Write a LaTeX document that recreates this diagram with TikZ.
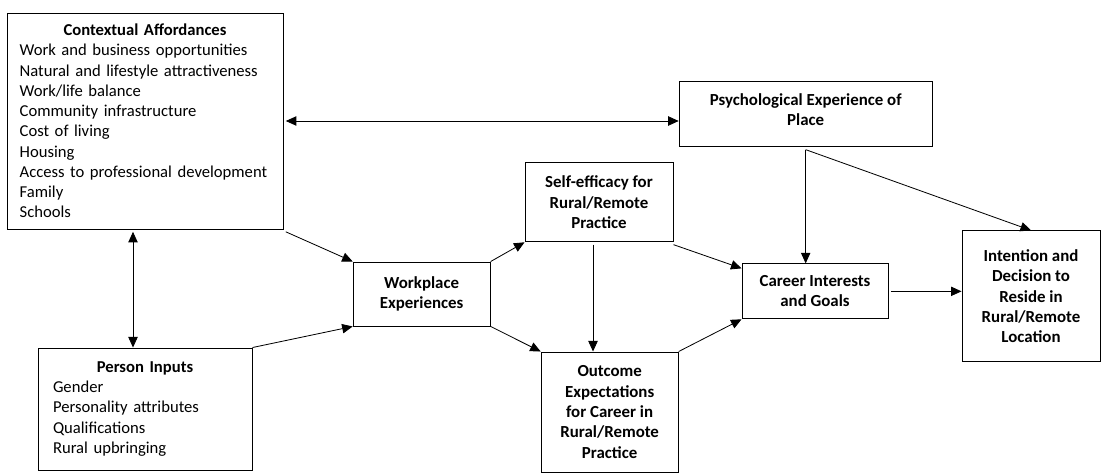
\documentclass[tikz,border=0pt]{standalone}
\usepackage{fontspec}
\setmainfont{Carlito}
\usepackage{tikz}
\usetikzlibrary{arrows.meta,positioning,calc}

\tikzset{
    box/.style={draw, line width=0.8pt, align=center, inner sep=2pt,
        font=\fontsize{14.4}{17.3}\selectfont\bfseries},
    listbox/.style={draw, line width=0.8pt, align=left, inner ysep=2pt,
        font=\fontsize{14.2}{17.3}\selectfont},
    arr/.style={-{Triangle[length=9pt,width=8pt]}, line width=0.7pt},
    dblarr/.style={{Triangle[length=9pt,width=8pt]}-{Triangle[length=9pt,width=8pt]}, line width=0.7pt}
}

\begin{document}
\begin{tikzpicture}
    \useasboundingbox (0,0) rectangle (33.12,14.19);

    % Inputs
    \node[listbox, inner xsep=0.38cm, text width=7.52cm, minimum height=6.48cm] (ctx) at (4.35,10.56)
        {\makebox[\linewidth]{\textbf{Contextual Affordances}}\\
         Work and business opportunities\\
         Natural and lifestyle attractiveness\\
         Work/life balance\\
         Community infrastructure\\
         Cost of living\\
         Housing\\
         Access to professional development\\
         Family\\
         Schools};
    \node[listbox, inner xsep=0.45cm, text width=5.52cm, minimum height=3.66cm] (pin) at (4.35,1.92)
        {\makebox[\linewidth]{\textbf{Person Inputs}}\\
         Gender\\
         Personality attributes\\
         Qualifications\\
         Rural upbringing};

    % Middle boxes
    \node[box, minimum width=4.11cm, minimum height=1.92cm] (wp) at (12.65,5.37)
        {Workplace\\Experiences};
    \node[box, minimum width=4.44cm, minimum height=2.37cm] (se) at (17.97,8.12)
        {Self-efficacy for\\Rural/Remote\\Practice};
    \node[box, minimum width=4.11cm, minimum height=3.6cm] (oc) at (18.29,1.83)
        {Outcome\\Expectations\\for Career in\\Rural/Remote\\Practice};
    \node[box, minimum width=7.59cm, minimum height=1.95cm, text depth=0.3cm] (psy) at (24.17,10.76)
        {Psychological Experience of\\Place};
    \node[box, minimum width=4.38cm, minimum height=1.65cm] (cg) at (24.45,5.45)
        {Career Interests\\and Goals};
    \node[box, minimum width=4.14cm, minimum height=3.93cm] (in) at (30.93,5.30)
        {Intention and\\Decision to\\Reside in\\Rural/Remote\\Location};

    % Arrows
    \draw[dblarr] ([xshift=2pt]ctx.east) -- (ctx.east -| psy.west);
    \draw[dblarr] ([xshift=-0.36cm,yshift=-2pt]ctx.south) -- ([xshift=-0.36cm]pin.north);
    \draw[arr] ([shift={(2pt,-2pt)}]ctx.south east) -- (wp.north west);
    \draw[arr] (pin.north east) -- (wp.south west);
    \draw[arr] (wp.north east) -- (se.south west);
    \draw[arr] (wp.south east) -- (oc.north west);
    \draw[arr] ([xshift=-0.18cm,yshift=-2pt]se.south) -- ([xshift=-0.18cm]se.south |- oc.north);
    \draw[arr] ([yshift=-2pt]se.south east) -- ([yshift=-0.15cm]cg.north west);
    \draw[arr] (oc.north east) -- (cg.south west);
    \draw[arr] ([yshift=-2pt]psy.south) -- (psy.south |- cg.north);
    \draw[arr] ([yshift=-2pt]psy.south) -- (in.north);
    \draw[arr] ([xshift=2pt]cg.east) -- (cg.east -| in.west);
\end{tikzpicture}
\end{document}
